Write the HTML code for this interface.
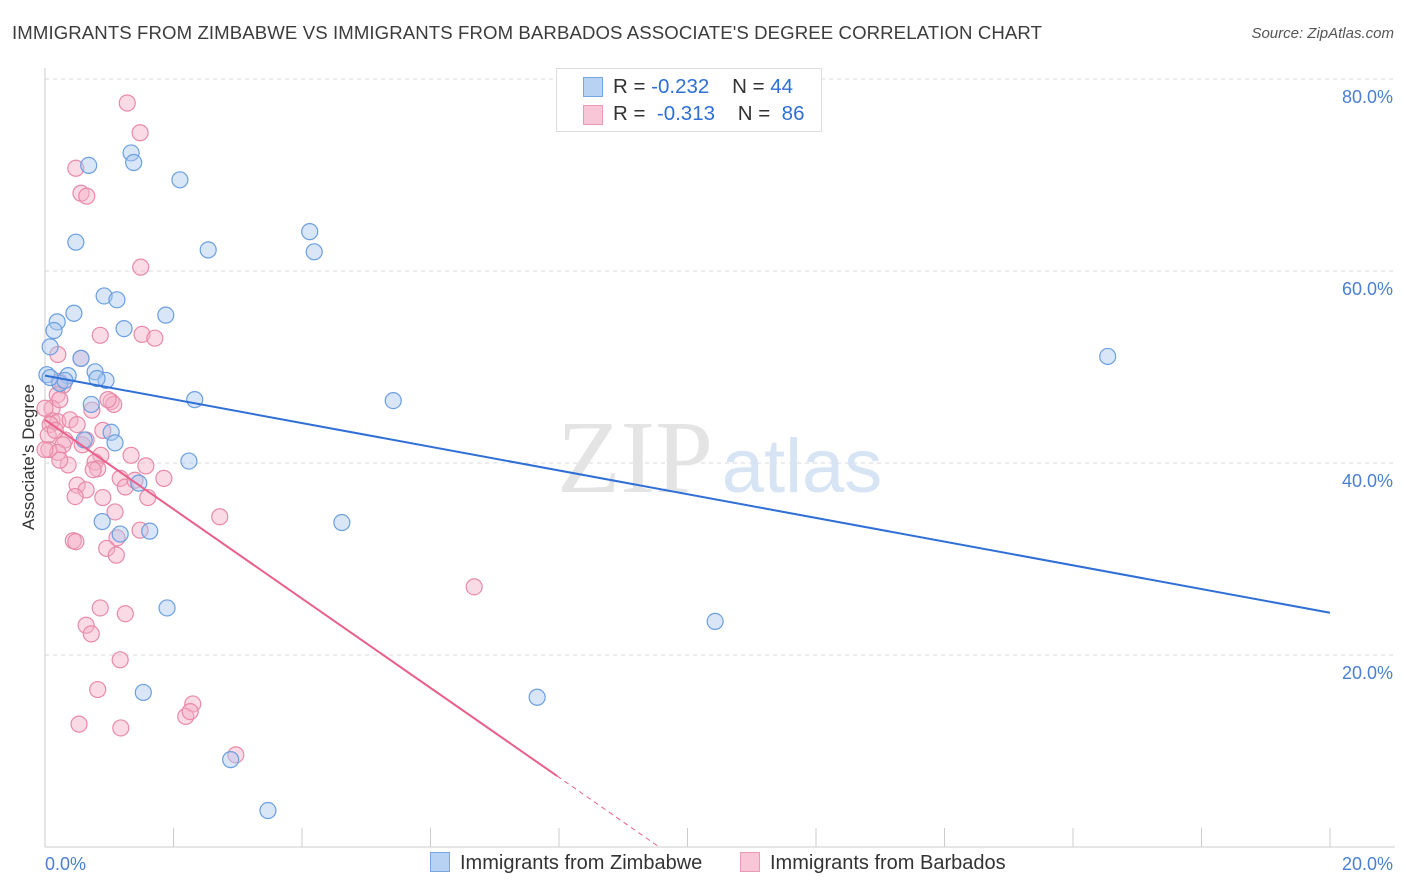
<!DOCTYPE html>
<html><head><meta charset="utf-8"><style>
body{margin:0;background:#fff;font-family:"Liberation Sans",sans-serif;}
#wrap{position:relative;width:1406px;height:892px;overflow:hidden;}
.t{position:absolute;white-space:nowrap;}
</style></head><body>
<div id="wrap">
<div class="t" style="left:12px;top:22px;font-size:18.6px;letter-spacing:0.1px;color:#3c3c3c;">IMMIGRANTS FROM ZIMBABWE VS IMMIGRANTS FROM BARBADOS ASSOCIATE'S DEGREE CORRELATION CHART</div>
<div class="t" style="right:12px;top:25px;font-size:15px;color:#555;font-style:italic;">Source: ZipAtlas.com</div>
<svg id="svg" width="1406" height="892" style="position:absolute;left:0;top:0"></svg>
</div>
<script>
const xTicks=[0,20];
const yTicks=[20,40,60,80];
const zimX=[0.68,1.34,1.38,2.10,0.48,2.54,4.12,4.19,0.92,1.12,0.45,1.88,0.19,0.14,1.23,0.08,0.56,0.03,0.36,0.23,0.31,0.78,0.95,0.81,2.33,5.42,0.72,1.03,0.61,1.09,2.24,1.46,0.89,4.62,1.17,1.63,1.90,10.43,1.53,7.66,2.89,3.47,16.54,0.08];
const zimY=[71.0,72.3,71.3,69.5,63.0,62.2,64.1,62.0,57.4,57.0,55.6,55.4,54.7,53.8,54.0,52.1,50.9,49.2,49.1,48.3,48.6,49.5,48.6,48.8,46.6,46.5,46.1,43.2,42.4,42.1,40.2,37.9,33.9,33.8,32.6,32.9,24.9,23.5,16.1,15.6,9.1,3.8,51.1,48.9];
const barX=[1.28,1.48,0.48,0.56,0.65,1.49,0.86,1.51,1.71,0.20,0.56,0.22,0.28,0.19,0.11,1.03,1.07,0.73,0.11,0.20,0.39,0.50,0.08,0.90,0.31,0.58,0.64,0.28,0.06,0.20,0.87,1.34,0.78,0.36,0.82,1.57,1.17,1.85,0.50,0.64,1.25,0.47,0.90,1.60,1.09,2.72,1.48,1.12,0.44,0.48,0.96,1.11,6.68,0.86,1.25,0.64,0.72,1.17,0.82,2.30,2.19,2.26,0.53,1.18,2.97,0.0,0.05,0.23,0.0,0.75,1.4,0.23,0.98,0.16];
const barY=[77.5,74.4,70.7,68.1,67.8,60.4,53.3,53.4,53.0,51.3,50.9,48.5,48.1,47.1,45.7,46.4,46.1,45.5,44.4,44.3,44.5,44.0,44.0,43.4,42.4,41.9,42.4,41.9,41.4,41.1,40.8,40.8,40.1,39.8,39.4,39.7,38.4,38.4,37.7,37.2,37.5,36.5,36.4,36.4,34.9,34.4,33.0,32.2,31.9,31.8,31.1,30.4,27.1,24.9,24.3,23.1,22.2,19.5,16.4,14.9,13.6,14.1,12.8,12.4,9.6,41.4,42.9,46.6,45.7,39.3,38.2,40.3,46.6,43.4];
const zimTrend=[49.1,24.4];
const barTrend=[44.5,7.4,7.97,9.58];
const sx=v=>45+v*64.25, sy=v=>847-v*9.6;
const svg=document.getElementById('svg');const NS='http://www.w3.org/2000/svg';
function mk(t,a,p){const e=document.createElementNS(NS,t);for(const k in a)e.setAttribute(k,a[k]);(p||svg).appendChild(e);return e;}
yTicks.forEach(v=>{const l=mk('line',{x1:45,x2:1395,y1:sy(v),y2:sy(v),stroke:'#d8d8d8','stroke-dasharray':'4,4'});


const t=mk('text',{x:1393,y:sy(v)+24,'text-anchor':'end','font-size':18,fill:'#4a7fd0','font-family':'Liberation Sans'});t.textContent=v.toFixed(1)+'%';

});
mk('line',{x1:45,x2:1395,y1:sy(80),y2:sy(80),stroke:'#d8d8d8','stroke-dasharray':'4,4'});
mk('line',{x1:45,x2:45,y1:68,y2:847,stroke:'#ccc'});
mk('line',{x1:45,x2:1395,y1:847,y2:847,stroke:'#ccc'});
for(let i=0;i<=10;i++){mk('line',{x1:sx(i*2),x2:sx(i*2),y1:828,y2:847,stroke:'#ccc'});}
xTicks.forEach((v,i)=>{const t=mk('text',{x:i?1393:45,y:870,'text-anchor':i?'end':'start','font-size':18,fill:'#4a7fd0','font-family':'Liberation Sans'});t.textContent=v.toFixed(1)+'%';

});
const yt=mk('text',{x:34,y:457,'text-anchor':'middle','font-size':17,fill:'#333',transform:'rotate(-90 34 457)','font-family':'Liberation Sans'});yt.textContent="Associate's Degree";


const wm=mk('text',{x:635,y:492,'text-anchor':'middle','font-size':104,fill:'#e4e4e4','font-family':'Liberation Serif'});wm.textContent='ZIP';
const wm2=mk('text',{x:802,y:492,'text-anchor':'middle','font-size':76,fill:'#d6e4f4','font-family':'Liberation Sans'});wm2.textContent='atlas';
function pts(X,Y,f,s,n){X.forEach((x,i)=>{const c=mk('circle',{cx:sx(x),cy:sy(Y[i]),r:8,fill:f,'fill-opacity':0.45,stroke:s,'stroke-width':1.2});

});}
pts(barX,barY,'#f5b0c6','#e88aa8','barbados-point');
pts(zimX,zimY,'#a8c8f0','#6a9fe0','zimbabwe-point');
const bl=mk('line',{x1:sx(0),y1:sy(zimTrend[0]),x2:sx(20),y2:sy(zimTrend[1]),stroke:'#2f6fd6','stroke-width':2});


const sl=(barTrend[1]-barTrend[0])/barTrend[2];
const pl=mk('line',{x1:sx(0),y1:sy(barTrend[0]),x2:sx(barTrend[2]),y2:sy(barTrend[1]),stroke:'#e8608a','stroke-width':2});


mk('line',{x1:sx(barTrend[2]),y1:sy(barTrend[1]),x2:sx(barTrend[3]),y2:sy(barTrend[0]+sl*barTrend[3]),stroke:'#e8608a','stroke-width':1,'stroke-dasharray':'5,4'});
</script>
<div style="position:absolute;left:556px;top:68px;width:264px;height:62px;border:1px solid #ddd;background:#fff;font-size:20.5px;">
<div style="position:absolute;left:26px;top:8px;width:18px;height:18px;background:#b8d2f4;border:1px solid #7aa6e4;"></div>
<div class="t" style="left:56px;top:6px;color:#333;">R = <span style="color:#2f6fd6">-0.232</span>&nbsp;&nbsp;&nbsp; N = <span style="color:#2f6fd6">44</span></div>
<div style="position:absolute;left:26px;top:36px;width:18px;height:18px;background:#f8c6d6;border:1px solid #eb9ab4;"></div>
<div class="t" style="left:56px;top:33px;color:#333;">R = &nbsp;<span style="color:#2f6fd6">-0.313</span>&nbsp;&nbsp;&nbsp; N = &nbsp;<span style="color:#2f6fd6">86</span></div>
</div>
<div style="position:absolute;left:430px;top:852px;font-size:20px;color:#333;">
<span style="display:inline-block;width:18px;height:18px;background:#b8d2f4;border:1px solid #7aa6e4;vertical-align:-3px;margin-right:10px;"></span>Immigrants from Zimbabwe</div>
<div style="position:absolute;left:740px;top:852px;font-size:20px;color:#333;">
<span style="display:inline-block;width:18px;height:18px;background:#f8c6d6;border:1px solid #eb9ab4;vertical-align:-3px;margin-right:10px;"></span>Immigrants from Barbados</div>
</body></html>
